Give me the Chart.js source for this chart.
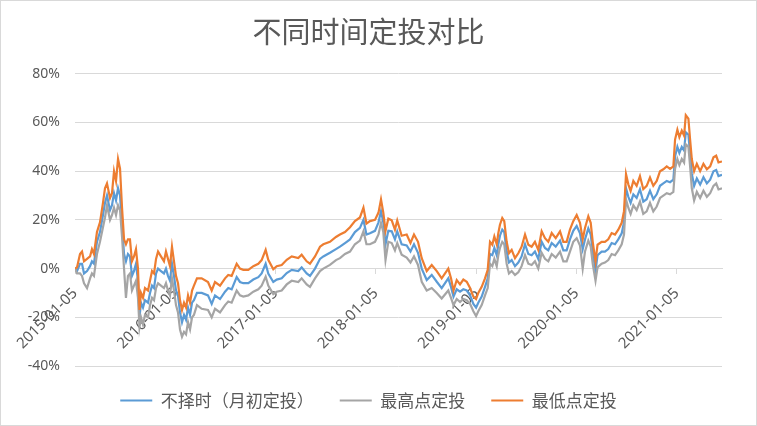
<!DOCTYPE html>
<html>
<head>
<meta charset="utf-8">
<script src="https://cdn.jsdelivr.net/npm/chart.js@4/dist/chart.umd.min.js"></script>
<style>
  html, body { margin: 0; padding: 0; background: #fff; }
  #wrap { width: 757px; height: 426px; }
</style>
</head>
<body>
<div id="wrap"><canvas id="chart" width="757" height="426"></canvas></div>
<script>
// years since 2015-01-05
const yearOffsets = [0,0.020,0.050,0.070,0.090,0.120,0.150,0.169,0.189,0.219,0.249,0.279,0.299,0.319,0.349,0.369,0.389,0.409,0.429,0.449,0.469,0.489,0.508,0.528,0.548,0.568,0.588,0.608,0.628,0.643,0.658,0.678,0.698,0.728,0.748,0.768,0.788,0.808,0.828,0.857,0.887,0.907,0.927,0.947,0.967,0.987,1.007,1.027,1.047,1.067,1.087,1.107,1.127,1.147,1.167,1.186,1.216,
  1.263,1.326,1.363,1.396,1.446,1.496,1.528,1.562,1.612,1.645,1.678,1.728,1.778,1.828,1.861,1.901,1.927,1.977,2.011,2.061,2.111,2.161,2.226,2.260,2.310,2.343,2.393,2.443,2.476,
  2.542,2.602,2.642,2.692,2.742,2.791,2.841,2.876,2.906,2.941,2.991,3.026,3.051,3.074,3.096,3.124,3.158,3.190,3.213,3.257,3.307,3.345,3.380,3.420,3.457,3.507,3.557,3.607,3.656,3.722,3.749,3.774,3.806,3.839,3.872,3.906,3.939,3.972,3.999,4.021,4.055,4.088,4.115,4.138,
  4.161,4.181,4.205,4.221,4.237,4.260,4.280,4.304,4.327,4.354,4.387,4.420,4.453,4.487,4.520,4.553,4.586,4.619,4.653,4.686,4.719,4.753,4.793,4.836,4.869,4.902,4.935,4.968,
  5.002,5.035,5.062,5.085,5.118,5.142,5.162,5.190,5.210,5.251,5.284,5.317,5.351,5.384,5.417,5.451,5.474,5.494,5.517,5.540,5.567,5.600,5.633,
  5.666,5.700,5.733,5.766,5.800,5.833,5.866,5.900,5.933,5.966,5.983,6.006,6.026,6.050,6.073,6.090,6.116,6.133,6.150,6.173,6.200,6.233,6.266,6.300,6.333,6.366,6.393,6.416,6.451];

// 不择时（月初定投）
const buyMonthly = [0,-1,2,2,-2,-1,1,3,2,11,15,22,27,30,24,26,31,28,33,30,18,6,3,6,5,-3,-1,2,-5,-20,-14,-16,-13,-14,-10,-7,-8,-2,0,-1,-2,0,-3,-5,2,-3,-9,-11,-18,-22,-19,-21,-16,-19,-14,-13,-10,
  -10,-11,-14.5,-11,-12.5,-9.5,-8,-8.5,-3.5,-5.5,-6,-6,-4.5,-3.5,-2,2,-2,-5.5,-4.5,-4,-1.8,-0.5,-1,0.5,-2,-3,0,4,5,
  6.5,8,9,10.5,12,15,16.7,20,14,14.5,15.5,19,23.6,19,10,15.5,15.3,12,15.3,10,9.5,7,10,6.5,0,-4.7,-2.6,-5.4,-8,-4,-7.5,-11.5,-8.5,-9.5,-8.5,-9,-11,-14.5,-16,-14,-11.5,-7.5,-4,6,
  5.5,8.5,5.5,10,13.5,16,15,7,2.5,3.5,1,2.5,5,10,6,5.5,7,4,11,8.5,7.5,10.5,9,11.5,7.5,7.5,12,15.5,
  17.5,14.5,8,12,16.5,14,7,-1,5.5,7,7,8,10.5,10,12,14.5,19,33,29.5,27,30.5,29,32.6,
  27.5,28.5,32,28.5,30.5,34,35,36,35.5,36.5,46,50,47.5,50,48.5,56,55,47,39,34,37,34.5,37.5,35,36.5,40,40.5,38,38.5];

// 最高点定投
const buyHigh = [0,-2,-2,-3,-6,-8,-4,-2,-3,6,11,17,21,26,20,22,25,22,26,24,13,0,-12,-3,-2,-9,-7,-5,-12,-24,-20,-23,-19,-20,-15,-12,-13,-8,-6,-7,-8,-6,-9,-11,-4,-9,-15,-18,-25,-28,-26,-27,-22,-25,-20,-19,-15,
  -16.5,-17,-20,-16.5,-18,-15,-13.5,-14,-9,-11,-11.5,-11,-9.5,-8.5,-7,-3.3,-7,-10.5,-9.5,-9,-6.5,-5,-5.5,-4,-6.5,-7.5,-4,-1,0,
  1.5,3.5,4.3,6,7,10,11.5,15.3,10,10,11,14,18.8,15,3.5,11,10.5,7.5,10.5,5.7,4.5,2.5,5,1.5,-5.4,-9,-8,-10,-12.3,-9,-12,-15,-12.5,-13.7,-12.5,-13,-14.5,-17.5,-19.5,-17.5,-15,-11,-8,2,
  1,4,1,5.5,8.5,11,10,2,-2,-1,-2.6,-1.5,1,5.5,2,1.5,3,0,6.5,4,3,6,4.5,7,3,3,7,11,
  12.5,9.5,0,7,11.5,9,2,-5,0.5,2,2.5,3.5,6,5.5,7.5,10,14,28.4,25,22.5,26,24,27.5,
  22.5,23.5,27,23.5,25.5,29,30,31,30.5,31.5,41,45,42.5,45,43.5,51,50,42,33,28,31.5,29,32,29.5,31,34,35,32.5,33];

// 最低点定投
const buyLow = [0,0.5,6,7,3,4,5,8,6,15,19,27,33,35,29,31,40,36,45,41,25,12,10,12,12,3,5,8,0,-17,-10,-12,-8,-9,-5,-1,-2,4,7,5,3,7,4,1,9,3,-3,-6,-13,-17,-14,-16,-11,-14,-9,-7,-4,
  -4,-5.5,-9,-5.5,-7,-4,-2.6,-3,2,0,-0.5,-0.5,1,2,3.5,7.7,3.6,-0.3,1,1.5,3.6,5,4.3,5.7,3,2,5,9,10,
  11,13,14,15,17,19.5,21,25,18.5,19.5,20,23,28.4,23,15.5,20.5,19.8,16,19.8,13.5,14,10.5,14,11,4.3,-1,1.5,-1,-4,0,-4,-9,-4.7,-6.5,-4.5,-5.4,-8,-11.5,-12.5,-10,-7.5,-4,-0.5,11,
  9.8,13.2,10,14.6,18,20.8,19.5,11,6.3,7.7,4.3,6.3,9,14,9.8,9,11,7.7,15.3,12.5,11,14.6,12.5,15.3,11,11,16,19.5,
  22,18.8,12,16.7,21.5,18.8,11,3,9.8,11,11,12,14.6,14,16,18.8,23.6,38.8,34.6,31.9,36,34,38,
  32.6,34,37.4,34,36,40,40.8,42,41,42,53,57,54,56.7,54.6,63,61.6,53,45,40,43,40,43,40.8,42,45.7,46.4,43.6,44];

const tickYears = [0, 1, 2, 3, 4, 5, 6];
const tickLabels = ['2015-01-05', '2016-01-05', '2017-01-05', '2018-01-05', '2019-01-05', '2020-01-05', '2021-01-05'];

const FONT = "'Noto Sans', 'Noto Sans CJK SC', sans-serif";
const CJK = "'Noto Sans CJK SC', 'Noto Sans', sans-serif";
const TEXT = '#595959';
const GRID = '#D9D9D9';

function series(label, values, col, order) {
  return {
    label,
    data: yearOffsets.map((t, i) => ({ x: t, y: values[i] })),
    borderColor: col,
    backgroundColor: col,
    borderWidth: 2.2,
    pointRadius: 0,
    tension: 0,
    order
  };
}

const frame = {
  id: 'frame',
  beforeDraw(chart) {
    const c = chart.ctx;
    c.save();
    c.fillStyle = '#fff';
    c.fillRect(0, 0, chart.width, chart.height);
    c.restore();
  },
  afterDraw(chart) {
    const c = chart.ctx;
    c.save();
    c.strokeStyle = GRID;
    c.lineWidth = 1;
    c.strokeRect(0.5, 0.5, chart.width - 1, chart.height - 1);
    c.restore();
  }
};

new Chart(document.getElementById('chart'), {
  type: 'line',
  data: {
    datasets: [
      series('不择时（月初定投）', buyMonthly, '#5B9BD5', 3),
      series('最高点定投', buyHigh, '#A5A5A5', 2),
      series('最低点定投', buyLow, '#ED7D31', 1)
    ]
  },
  options: {
    responsive: false,
    animation: false,
    devicePixelRatio: 1,
    layout: { padding: { left: 15, right: 35, top: 0, bottom: 7 } },
    plugins: {
      title: {
        display: true,
        text: '不同时间定投对比',
        color: TEXT,
        font: { family: CJK, size: 29, weight: 'normal' },
        padding: { top: 15, bottom: 24 }
      },
      legend: {
        position: 'bottom',
        labels: {
          color: TEXT,
          font: { family: CJK, size: 17 },
          usePointStyle: true,
          pointStyle: 'line',
          pointStyleWidth: 32,
          padding: 26,
          sort: (a, b) => a.datasetIndex - b.datasetIndex
        }
      },
      tooltip: { enabled: false }
    },
    scales: {
      x: {
        type: 'linear',
        position: { y: 0 },
        min: 0,
        max: yearOffsets[yearOffsets.length - 1],
        afterBuildTicks: s => { s.ticks = tickYears.map(v => ({ value: v })); },
        ticks: {
          autoSkip: false,
          minRotation: 45,
          maxRotation: 45,
          padding: 11,
          color: TEXT,
          font: { family: FONT, size: 15 },
          callback: (v, i) => tickLabels[i]
        },
        grid: { display: true, drawOnChartArea: false, drawTicks: true, tickLength: 5, color: GRID },
        border: { display: true, color: GRID }
      },
      y: {
        min: -40,
        max: 80,
        afterFit: s => { s.width = 60; },
        ticks: {
          stepSize: 20,
          padding: 15,
          color: TEXT,
          font: { family: FONT, size: 14 },
          callback: v => v + '%'
        },
        grid: { color: GRID, drawTicks: false },
        border: { display: false }
      }
    }
  },
  plugins: [frame]
});
</script>
</body>
</html>
